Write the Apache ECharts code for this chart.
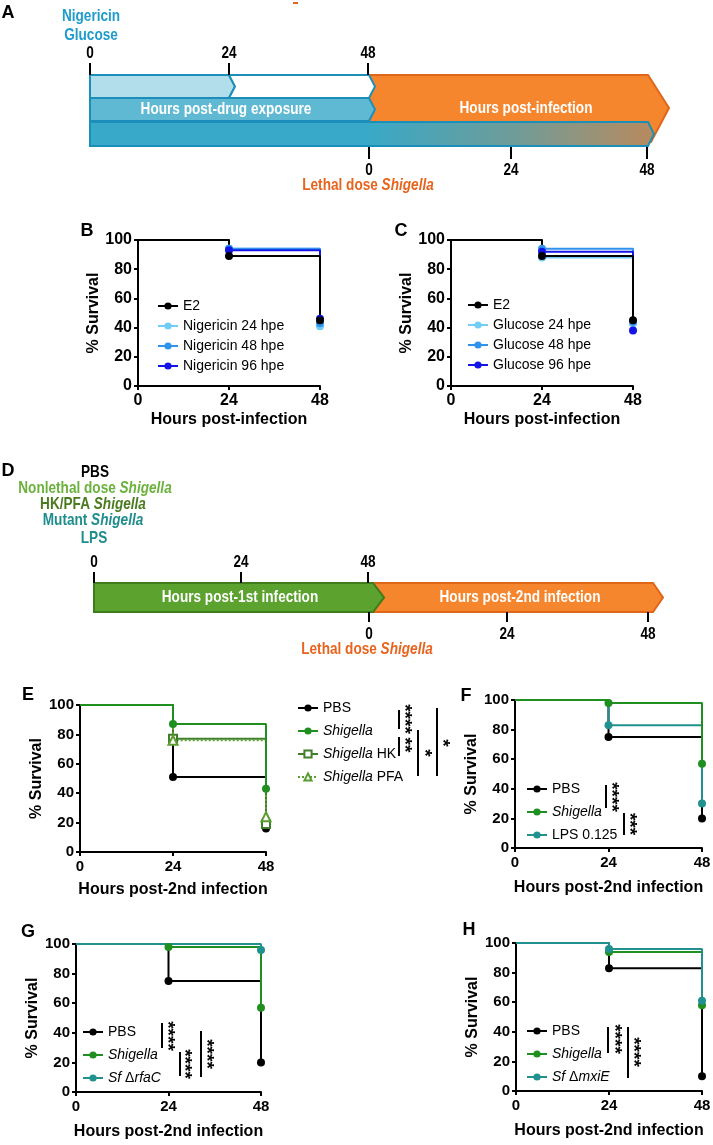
<!DOCTYPE html>
<html><head><meta charset="utf-8">
<script src="https://cdn.jsdelivr.net/npm/echarts@6/dist/echarts.min.js"></script>
<style>html,body{margin:0;padding:0;background:#fff}#c{width:713px;height:1145px}</style>
</head><body><div id="c"></div>
<script>
// ---------- data ----------
const hours = [0, 24, 48];
const B_E2    = [100, 89, 45];
const B_Nig24 = [100, 94, 41];
const B_Nig48 = [100, 94, 43];
const B_Nig96 = [100, 93, 46];
const C_E2    = [100, 89, 45];
const C_Glu24 = [100, 88, 43];
const C_Glu48 = [100, 94, 44];
const C_Glu96 = [100, 92, 38];
const E_PBS  = [100, 51, 16];
const E_Shig = [100, 87, 43];
const E_HK   = [100, 77, 19];
const E_PFA  = [100, 76, 24];
const F_PBS  = [100, 75, 20];
const F_Shig = [100, 98, 57];
const F_LPS  = [100, 83, 30];
const G_PBS  = [100, 75, 20];
const G_Shig = [100, 98, 57];
const G_rfaC = [100, 100, 96];
const H_PBS  = [100, 83, 10];
const H_Shig = [100, 94, 58];
const H_mxiE = [100, 96, 61];
const xTicks = ['0', '24', '48'];

// ---------- style ----------
const FF = 'Liberation Sans, Arial, sans-serif';
const SX = 0.8; // horizontal condensing for schematic text
const cBlack = '#000000', cL = '#6fcdf6', cM = '#2f93ee', cD = '#1414e6';
const cGreen = '#1f8f1f', cHK = '#3f7f2a', cPFA = '#5a9e32', cTeal = '#21918f';

const chart = echarts.init(document.getElementById('c'), null, {renderer: 'canvas'});

const grids = [
  {left:138, top:240, width:182, height:146},
  {left:451, top:240, width:182, height:146},
  {left:80,  top:705, width:186, height:147},
  {left:515, top:700, width:187, height:148},
  {left:76,  top:944, width:185, height:148},
  {left:516, top:943, width:186, height:148}
].map(g => Object.assign({containLabel:false, outerBoundsMode:'none'}, g));

const xNames = ['Hours post-infection','Hours post-infection','Hours post-2nd infection','Hours post-2nd infection','Hours post-2nd infection','Hours post-2nd infection'];
const xGaps = [26, 26, 30, 32, 32, 32];
const yGaps = [25, 26, 29, 29, 30, 30];
const labSize = [16, 16, 15, 15, 15, 15];

const xAxes = grids.map((g,i) => ({
  gridIndex:i, type:'value', min:0, max:48, interval:24,
  name:xNames[i], nameLocation:'middle', nameGap:xGaps[i],
  nameTextStyle:{fontSize:16, fontWeight:'bold', color:'#000', fontFamily:FF},
  axisLine:{show:true, onZero:false, lineStyle:{color:'#000', width:2}},
  axisTick:{show:true, inside:false, length:4, lineStyle:{color:'#000', width:2}},
  axisLabel:{show:true, fontSize:labSize[i], fontWeight:'bold', color:'#000', margin:7, fontFamily:FF, showMinLabel:true, showMaxLabel:true,
    formatter: v => xTicks[hours.indexOf(v)] ?? ''},
  splitLine:{show:false}
}));
const yAxes = grids.map((g,i) => ({
  gridIndex:i, type:'value', min:0, max:100, interval:20,
  name:'% Survival', nameLocation:'middle', nameGap:yGaps[i], nameRotate:90,
  nameTextStyle:{fontSize:16, fontWeight:'bold', color:'#000', fontFamily:FF},
  axisLine:{show:true, onZero:false, lineStyle:{color:'#000', width:2}},
  axisTick:{show:true, inside:false, length:4, lineStyle:{color:'#000', width:2}},
  axisLabel:{show:true, fontSize:labSize[i], fontWeight:'bold', color:'#000', margin:6, fontFamily:FF, showMinLabel:true, showMaxLabel:true},
  splitLine:{show:false}
}));

function km(vals){
  return hours.map((h,i) => {
    const noEvent = i === 0 || vals[i] === vals[i-1];
    return noEvent ? {value:[h, vals[i]], symbol:'none'} : [h, vals[i]];
  });
}
function ser(name, idx, vals, color, opt={}){
  return {
    name, type:'line', step:'end', xAxisIndex:idx, yAxisIndex:idx,
    data: km(vals), symbol: opt.symbol || 'circle', symbolSize: opt.size || 8,
    showSymbol:true, showAllSymbol:true,
    lineStyle:{color, width:2, type: opt.dash || 'solid'},
    itemStyle:{color, borderColor:color, borderWidth: opt.bw || 0},
    emphasis:{disabled:true}, animation:false, clip:false
  };
}
const series = [
  ser('B|Nigericin 24 hpe', 0, B_Nig24, cL),
  ser('B|Nigericin 48 hpe', 0, B_Nig48, cM),
  ser('B|Nigericin 96 hpe', 0, B_Nig96, cD),
  ser('B|E2', 0, B_E2, cBlack),
  ser('C|Glucose 24 hpe', 1, C_Glu24, cL),
  ser('C|Glucose 48 hpe', 1, C_Glu48, cM),
  ser('C|Glucose 96 hpe', 1, C_Glu96, cD),
  ser('C|E2', 1, C_E2, cBlack),
  ser('E|PBS', 2, E_PBS, cBlack),
  ser('E|{i|Shigella} HK', 2, E_HK, cHK, {symbol:'emptyRect', size:8, bw:1.5}),
  ser('E|{i|Shigella} PFA', 2, E_PFA, cPFA, {symbol:'emptyTriangle', size:9, dash:'dotted', bw:1.5}),
  ser('E|{i|Shigella}', 2, E_Shig, cGreen),
  ser('F|PBS', 3, F_PBS, cBlack),
  ser('F|LPS 0.125', 3, F_LPS, cTeal),
  ser('F|{i|Shigella}', 3, F_Shig, cGreen),
  ser('G|PBS', 4, G_PBS, cBlack),
  ser('G|{i|Shigella}', 4, G_Shig, cGreen),
  ser('G|{i|Sf} Δ{i|rfaC}', 4, G_rfaC, cTeal),
  ser('H|PBS', 5, H_PBS, cBlack),
  ser('H|{i|Shigella}', 5, H_Shig, cGreen),
  ser('H|{i|Sf} Δ{i|mxiE}', 5, H_mxiE, cTeal)
];

function leg(left, top, gap, names){
  return {
    left, top, orient:'vertical', itemWidth:20, itemHeight:9, itemGap:gap, padding:0,
    selectedMode:false, data:names,
    formatter: n => n.slice(2),
    textStyle:{fontSize:14, color:'#000', fontFamily:FF, lineHeight:16,
      rich:{i:{fontStyle:'italic', fontSize:14, color:'#000', fontFamily:FF, lineHeight:16}}}
  };
}
const legends = [
  leg(157, 298, 4, ['B|E2','B|Nigericin 24 hpe','B|Nigericin 48 hpe','B|Nigericin 96 hpe']),
  leg(467, 297, 4, ['C|E2','C|Glucose 24 hpe','C|Glucose 48 hpe','C|Glucose 96 hpe']),
  leg(297, 700, 7, ['E|PBS','E|{i|Shigella}','E|{i|Shigella} HK','E|{i|Shigella} PFA']),
  leg(526, 781, 7, ['F|PBS','F|{i|Shigella}','F|LPS 0.125']),
  leg(82, 1024, 7, ['G|PBS','G|{i|Shigella}','G|{i|Sf} Δ{i|rfaC}']),
  leg(526, 1023, 7, ['H|PBS','H|{i|Shigella}','H|{i|Sf} Δ{i|mxiE}'])
];

// ---------- annotations / schematic ----------
const G = [];
function txt(x, y, text, o = {}){
  G.push({type:'text', x, y, rotation:o.rot || 0, scaleX:o.sx || 1, z:20, silent:true,
    style:Object.assign({text, fill:'#000', fontFamily:FF, fontWeight:'bold', fontSize:15, align:'center', verticalAlign:'middle'}, o.style || {})});
}
function ln(x1, y1, x2, y2, c = '#000', w = 2){
  G.push({type:'line', z:15, silent:true, shape:{x1, y1, x2, y2}, style:{stroke:c, lineWidth:w}});
}
function poly(pts, fill, stroke, w = 2, z = 5){
  G.push({type:'polygon', z, silent:true, shape:{points:pts}, style:{fill, stroke, lineWidth:w, lineJoin:'miter'}});
}
const narrow = (size, color) => ({sx:SX, style:{fontFamily:FF, fontSize:size, fill:color}});

// panel letters
[['A',8,13],['B',87,231],['C',401,231],['D',8,471],['E',28,695],['F',466,696],['G',28,932],['H',469,930]]
  .forEach(([t,x,y]) => txt(x, y, t, {style:{fontSize:18}}));

// ---- Panel A ----
G.push({type:'rect', z:5, silent:true, shape:{x:293, y:2, width:5, height:2}, style:{fill:'#e8641e'}});
const cBlueTxt = '#1e9cca';
txt(91, 16, 'Nigericin', narrow(17, cBlueTxt));
txt(91, 35, 'Glucose', narrow(17, cBlueTxt));
[[90,'0'],[229,'24'],[368,'48']].forEach(([x,t]) => { txt(x, 53, t, narrow(17, '#000')); ln(x, 63, x, 75); });
const tealB = '#1b8fb9';
poly([[369,75],[648,75],[669,108],[651,142],[369,142]], '#f6862e', '#e0661a', 2, 3);
poly([[90,122],[648,122],[654,134],[648,146],[90,146]],
  new echarts.graphic.LinearGradient(0,0,1,0,[{offset:0,color:'#38a9c8'},{offset:0.49,color:'#38a9c8'},{offset:0.75,color:'#6f9c98'},{offset:1,color:'#b98a5e'}]),
  tealB, 2, 6);
poly([[90,75],[229,75],[235,86.5],[229,98],[90,98]], '#b1deea', tealB, 2, 7);
poly([[229,75],[369,75],[375,86.5],[369,98],[229,98],[235,86.5]], '#ffffff', tealB, 2, 7);
poly([[90,98],[369,98],[375,109.5],[369,121],[90,121]], '#5fb9d3', tealB, 2, 7);
txt(226, 109, 'Hours post-drug exposure', narrow(17, '#fff'));
txt(526, 108, 'Hours post-infection', narrow(17, '#fff'));
[[369,'0'],[511,'24'],[647,'48']].forEach(([x,t]) => { ln(x, 147, x, 159); txt(x, 170, t, narrow(17, '#000')); });
const orangeTxt = '#e8641e';
const rc = (c) => ({a:{fontFamily:FF, fontSize:17, fontWeight:'bold', fill:c}, b:{fontFamily:FF, fontSize:17, fontWeight:'bold', fontStyle:'italic', fill:c}});
txt(368, 185, '{a|Lethal dose }{b|Shigella}', {sx:SX, style:{rich:rc(orangeTxt)}});

// ---- Panel D ----
txt(95, 472, '{a|PBS}', {sx:SX, style:{rich:rc('#000')}});
txt(95, 488, '{a|Nonlethal dose }{b|Shigella}', {sx:SX, style:{rich:rc('#6ab23c')}});
txt(93, 504, '{a|HK/PFA }{b|Shigella}', {sx:SX, style:{rich:rc('#4a7b1e')}});
txt(93, 520, '{a|Mutant }{b|Shigella}', {sx:SX, style:{rich:rc('#1f8d8d')}});
txt(94, 538, '{a|LPS}', {sx:SX, style:{rich:rc('#1f8d8d')}});
[[94,'0'],[241,'24'],[368,'48']].forEach(([x,t]) => { txt(x, 562, t, narrow(17, '#000')); ln(x, 572, x, 583); });
poly([[373,583],[653,583],[663,597.5],[653,612],[373,612],[384,597.5]], '#f6862e', '#e0661a', 2, 5);
poly([[94,583],[373,583],[384,597.5],[373,612],[94,612]], '#5ba22e', '#3f7d1c', 2, 6);
txt(240, 597, 'Hours post-1st infection', narrow(17, '#fff'));
txt(520, 597, 'Hours post-2nd infection', narrow(17, '#fff'));
[[369,'0'],[507,'24'],[648,'48']].forEach(([x,t]) => { ln(x, 612, x, 622); txt(x, 634, t, narrow(17, '#000')); });
txt(367, 649, '{a|Lethal dose }{b|Shigella}', {sx:SX, style:{rich:rc(orangeTxt)}});

// ---- significance brackets ----
function sig(x, y1, y2, stars, sx, sy){
  ln(x, y1, x, y2);
  txt(sx, sy, stars, {rot:-Math.PI/2, style:{fontSize:19, fontFamily:FF}});
}
sig(399, 710, 729, '****', 404, 719);
sig(399, 737, 756, '**', 404, 745);
sig(418, 730, 776, '*', 424, 753);
sig(437, 708, 776, '*', 442, 743);
sig(606, 785, 808, '****', 611, 797);
sig(624, 813, 835, '***', 629, 824);
sig(162, 1023, 1048, '****', 167, 1036);
sig(180, 1052, 1076, '****', 184, 1064);
sig(201, 1031, 1077, '****', 206, 1054);
sig(608, 1027, 1053, '****', 614, 1039);
sig(628, 1027, 1078, '****', 633, 1052);

chart.setOption({
  animation:false,
  backgroundColor:'#ffffff',
  grid:grids, xAxis:xAxes, yAxis:yAxes,
  legend:legends, series, graphic:G
});
</script></body></html>
